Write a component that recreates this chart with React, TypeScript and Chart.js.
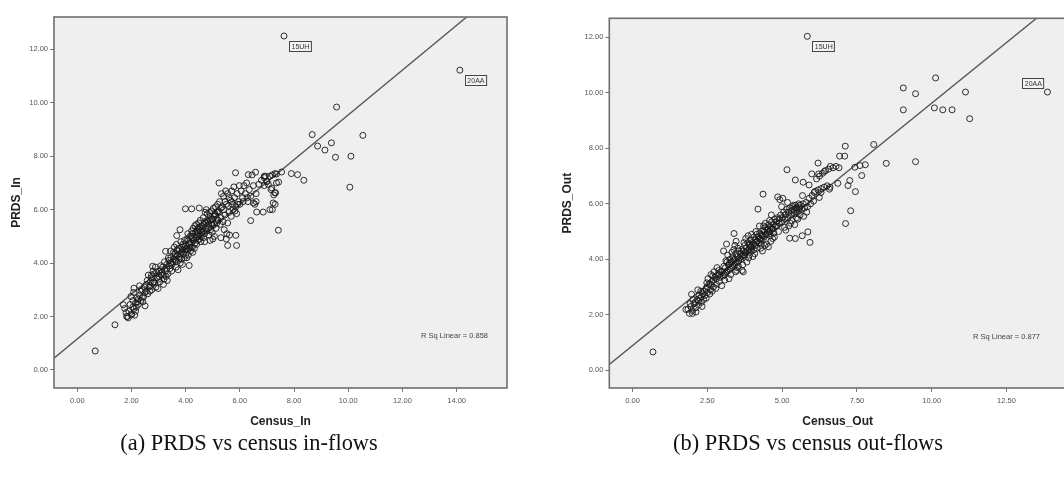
import React, { useEffect, useRef } from 'react';
import { Chart, registerables } from 'chart.js';

Chart.register(...registerables);

// ---------- Panel (a): PRDS vs census in-flows ----------
const inPoints: [number, number][] = [
  // outliers / sparse points
  [7.63, 12.5], [14.12, 11.22], [9.57, 9.84], [8.67, 8.81], [10.54, 8.78], [8.87, 8.38],
  [9.14, 8.23], [9.38, 8.5], [9.53, 7.96], [10.1, 8.0], [10.06, 6.84], [0.66, 0.71],
  [1.39, 1.69], [7.42, 5.23], [5.88, 4.66], [5.55, 4.66], [5.85, 5.04], [6.4, 5.59],
  [6.62, 5.91], [6.86, 5.91], [7.11, 6.0], [7.23, 6.25], [7.29, 6.63], [7.9, 7.35],
  [8.13, 7.31], [8.36, 7.1], [7.43, 7.03], [7.54, 7.41], [7.35, 7.33], [5.84, 7.38],
  [6.31, 7.31], [6.58, 7.4], [6.9, 7.25], [6.99, 7.06], [7.18, 6.81], [7.32, 6.63],
  [5.23, 7.0], [3.99, 6.03], [4.22, 6.03], [4.5, 6.06], [3.79, 5.25], [3.67, 5.03],
  [4.13, 3.91], [3.26, 4.44], [3.36, 4.19], [2.78, 3.88], [2.74, 3.56], [2.5, 2.4],
  [1.7, 2.44], [1.82, 2.0], [2.0, 2.06], [2.09, 3.06],
  // main cluster
  [1.75, 2.3], [1.8, 2.15], [1.85, 2.0], [1.9, 2.2], [1.95, 2.45], [2.0, 2.1], [2.05, 2.6],
  [2.1, 2.3], [2.15, 2.5], [2.2, 2.7], [1.88, 1.95], [2.12, 2.05], [2.18, 2.35], [1.98, 2.75],
  [2.08, 2.9], [2.22, 2.55],
  [2.25, 2.45], [2.3, 2.8], [2.35, 2.6], [2.4, 3.0], [2.45, 2.75], [2.5, 2.9], [2.55, 3.2],
  [2.6, 2.85], [2.65, 3.1], [2.7, 3.3], [2.75, 3.0], [2.3, 3.15], [2.42, 2.55], [2.58, 3.35],
  [2.68, 2.95], [2.78, 3.25], [2.35, 2.95], [2.48, 3.1], [2.62, 3.55], [2.72, 3.45],
  [2.82, 3.3], [2.85, 3.6], [2.9, 3.1], [2.95, 3.45], [3.0, 3.7], [3.05, 3.3], [3.1, 3.55],
  [3.15, 3.85], [3.2, 3.4], [3.25, 3.7], [3.3, 3.95], [3.35, 3.6], [2.88, 3.85], [2.98, 3.05],
  [3.08, 3.9], [3.18, 3.2], [3.28, 3.5], [3.38, 4.1], [2.92, 3.65], [3.12, 3.65], [3.22, 4.05],
  [3.32, 3.35], [3.02, 3.5], [2.8, 3.7],
  [3.42, 3.8], [3.45, 4.2], [3.5, 3.95], [3.55, 4.4], [3.6, 4.1], [3.65, 3.85], [3.7, 4.3],
  [3.75, 4.55], [3.8, 4.0], [3.85, 4.4], [3.9, 4.7], [3.95, 4.2], [3.48, 3.7], [3.58, 4.6],
  [3.68, 4.5], [3.78, 4.25], [3.88, 3.95], [3.98, 4.5], [3.62, 4.25], [3.72, 3.75], [3.82, 4.8],
  [3.92, 4.35], [3.52, 4.05], [3.44, 4.45], [3.66, 4.7], [3.86, 4.6], [3.96, 4.85], [3.76, 4.15],
  [4.02, 4.5], [4.05, 4.9], [4.1, 4.3], [4.15, 4.7], [4.2, 5.0], [4.25, 4.6], [4.3, 4.85],
  [4.35, 5.15], [4.4, 4.7], [4.45, 5.3], [4.5, 4.9], [4.55, 5.2], [4.08, 5.1], [4.18, 4.45],
  [4.28, 5.3], [4.38, 4.95], [4.48, 5.5], [4.58, 5.0], [4.12, 4.75], [4.22, 5.2], [4.32, 4.55],
  [4.42, 5.05], [4.52, 5.35], [4.04, 4.2], [4.24, 4.95], [4.34, 5.4], [4.44, 4.85], [4.54, 5.6],
  [4.16, 5.0], [4.46, 5.15], [4.56, 4.8], [4.26, 4.4],
  [4.62, 5.3], [4.65, 5.7], [4.7, 5.1], [4.75, 5.5], [4.8, 5.85], [4.85, 5.3], [4.9, 5.6],
  [4.95, 5.95], [5.0, 5.4], [5.05, 5.75], [5.1, 6.1], [5.15, 5.5], [4.68, 5.45], [4.78, 5.2],
  [4.88, 5.9], [4.98, 5.15], [5.08, 5.85], [5.18, 6.2], [4.72, 5.9], [4.82, 5.55], [4.92, 5.25],
  [5.02, 6.05], [5.12, 5.3], [4.66, 4.95], [4.76, 6.0], [4.86, 5.05], [4.96, 5.65], [5.06, 5.0],
  [5.16, 5.9], [4.7, 4.8], [4.9, 4.85], [5.0, 4.9], [5.2, 5.6],
  [5.22, 5.9], [5.25, 6.3], [5.3, 5.7], [5.35, 6.1], [5.4, 6.5], [5.45, 5.8], [5.5, 6.2],
  [5.55, 6.6], [5.6, 5.9], [5.65, 6.35], [5.7, 6.7], [5.75, 6.0], [5.8, 6.45], [5.85, 6.1],
  [5.9, 6.6], [5.95, 6.3], [5.28, 5.45], [5.38, 5.55], [5.48, 6.7], [5.58, 6.15], [5.68, 5.75],
  [5.78, 6.85], [5.88, 5.85], [5.98, 6.9], [5.32, 6.6], [5.42, 5.25], [5.52, 5.1], [5.62, 5.05],
  [5.72, 6.2], [5.82, 5.95], [5.92, 6.2], [5.3, 4.95], [5.5, 4.9],
  [6.05, 6.7], [6.1, 6.45], [6.15, 6.9], [6.2, 6.6], [6.25, 7.0], [6.3, 6.3], [6.35, 6.75],
  [6.4, 6.5], [6.5, 6.9], [6.6, 6.6], [6.7, 6.95], [6.8, 7.1], [6.9, 7.2], [7.0, 7.05],
  [7.1, 7.25], [7.2, 7.3], [7.3, 7.35], [6.45, 7.3], [6.55, 6.2], [6.9, 6.9], [7.05, 6.95],
  [7.15, 6.75], [7.25, 6.55], [7.35, 7.0], [6.0, 6.2], [6.12, 6.3], [6.28, 6.45], [6.5, 6.25],
  [6.6, 6.3], [6.95, 7.25], [7.3, 6.2], [7.2, 6.0],
  // dense core
  [2.05, 2.35], [2.15, 2.2], [2.25, 2.65], [2.4, 2.7], [2.55, 2.95], [2.7, 3.15], [2.85, 3.25],
  [3.0, 3.4], [3.1, 3.75], [3.2, 3.55], [3.3, 3.8], [3.4, 3.9], [3.45, 4.0], [3.55, 4.15],
  [3.6, 4.35], [3.65, 4.05], [3.7, 4.45], [3.8, 4.35], [3.85, 4.15], [3.9, 4.5], [3.95, 4.6],
  [4.0, 4.3], [4.0, 4.65], [4.05, 4.55], [4.1, 4.85], [4.15, 4.55], [4.2, 4.75], [4.25, 5.1],
  [4.3, 4.95], [4.35, 4.75], [4.4, 5.2], [4.45, 5.0], [4.5, 5.25], [4.55, 5.05], [4.6, 5.4],
  [4.65, 5.2], [4.7, 5.55], [4.75, 5.3], [4.8, 5.6], [4.85, 5.45], [4.9, 5.75], [4.95, 5.5],
  [5.0, 5.65], [5.05, 5.45], [5.1, 5.8], [5.15, 5.65], [5.2, 5.95], [5.3, 6.05], [5.4, 6.0],
  [5.45, 6.3], [5.6, 6.45], [5.7, 6.3], [5.55, 5.5], [4.6, 5.15], [4.4, 5.45], [4.2, 4.6],
];
const inLabels = ['15UH', '20AA'];
const inLabelX = [7.63, 14.12];
const inLabelY = [12.5, 11.22];
const inFitSlope = 0.8385;
const inFitIntercept = 1.16;
const inRsq = 'R Sq Linear = 0.858';
const inXTicks = [0, 2, 4, 6, 8, 10, 12, 14];
const inYTicks = [0, 2, 4, 6, 8, 10, 12];

// ---------- Panel (b): PRDS vs census out-flows ----------
const outPoints: [number, number][] = [
  // outliers / sparse points
  [5.84, 12.04], [13.87, 10.03], [10.13, 10.54], [9.05, 10.18], [9.46, 9.97], [11.13, 10.03],
  [9.05, 9.39], [10.09, 9.46], [10.37, 9.39], [10.68, 9.39], [11.27, 9.07], [9.46, 7.52],
  [8.48, 7.46], [8.06, 8.14], [7.11, 8.08], [6.92, 7.72], [7.09, 7.72], [7.78, 7.41],
  [7.6, 7.38], [7.43, 7.32], [7.66, 7.02], [7.45, 6.44], [7.26, 6.84], [7.2, 6.66],
  [7.29, 5.75], [7.12, 5.29], [6.86, 6.74], [6.2, 7.47], [6.61, 7.35], [6.41, 7.17],
  [6.22, 7.08], [5.99, 7.08], [5.16, 7.23], [5.44, 6.86], [5.7, 6.78], [5.9, 6.68],
  [6.07, 6.41], [4.36, 6.35], [4.19, 5.81], [3.39, 4.93], [5.93, 4.61], [5.67, 4.85],
  [5.86, 4.99], [5.44, 4.75], [5.25, 4.76], [0.68, 0.66], [1.78, 2.19], [2.0, 2.05],
  [1.97, 2.74], [6.24, 6.23], [6.3, 6.41], [6.58, 6.53],
  // main cluster
  [1.85, 2.2], [1.9, 2.05], [1.95, 2.3], [2.0, 2.15], [2.05, 2.4], [2.1, 2.25], [2.15, 2.55],
  [2.2, 2.35], [2.25, 2.6], [2.3, 2.45], [2.35, 2.75], [2.02, 2.55], [2.12, 2.1], [2.22, 2.7],
  [2.32, 2.3], [1.92, 2.4], [2.18, 2.9], [2.28, 2.85], [2.38, 2.55],
  [2.42, 2.7], [2.45, 2.95], [2.5, 2.8], [2.55, 3.1], [2.6, 2.9], [2.65, 3.2], [2.7, 3.0],
  [2.75, 3.35], [2.8, 3.1], [2.85, 3.45], [2.9, 3.2], [2.95, 3.55], [2.48, 3.15], [2.58, 2.75],
  [2.68, 3.4], [2.78, 2.95], [2.88, 3.6], [2.98, 3.05], [2.52, 3.3], [2.62, 3.45], [2.72, 3.55],
  [2.82, 3.7], [2.92, 3.35], [2.46, 2.6], [2.66, 2.85],
  [3.02, 3.4], [3.05, 3.75], [3.1, 3.5], [3.15, 3.9], [3.2, 3.6], [3.25, 4.0], [3.3, 3.7],
  [3.35, 4.1], [3.4, 3.8], [3.45, 4.2], [3.5, 3.9], [3.55, 4.3], [3.08, 3.25], [3.18, 4.15],
  [3.28, 3.45], [3.38, 4.35], [3.48, 3.6], [3.58, 4.05], [3.12, 3.95], [3.22, 3.3], [3.32, 4.25],
  [3.42, 4.5], [3.52, 4.4], [3.04, 4.3], [3.14, 4.55], [3.24, 3.85], [3.44, 3.55], [3.54, 3.75],
  [3.36, 3.95], [3.46, 4.65],
  [3.62, 4.0], [3.65, 4.35], [3.7, 4.15], [3.75, 4.5], [3.8, 4.25], [3.85, 4.6], [3.9, 4.35],
  [3.95, 4.7], [4.0, 4.45], [4.05, 4.8], [4.1, 4.5], [4.15, 4.9], [3.68, 3.8], [3.78, 4.75],
  [3.88, 4.05], [3.98, 4.9], [4.08, 4.2], [4.18, 4.65], [3.72, 4.6], [3.82, 3.9], [3.92, 4.55],
  [4.02, 4.1], [4.12, 5.0], [3.66, 3.6], [3.86, 4.85], [4.06, 4.35], [4.16, 4.4], [3.76, 4.25],
  [3.96, 4.3], [3.7, 3.55],
  [4.22, 4.6], [4.25, 4.95], [4.3, 4.7], [4.35, 5.05], [4.4, 4.8], [4.45, 5.15], [4.5, 4.9],
  [4.55, 5.25], [4.6, 5.0], [4.65, 5.35], [4.7, 5.1], [4.75, 5.45], [4.28, 4.4], [4.38, 5.2],
  [4.48, 4.55], [4.58, 5.4], [4.68, 4.75], [4.78, 5.2], [4.32, 4.85], [4.42, 4.5], [4.52, 5.1],
  [4.62, 4.65], [4.72, 4.95], [4.24, 5.2], [4.44, 5.3], [4.64, 5.6], [4.34, 4.3], [4.54, 4.45],
  [4.74, 4.8],
  [4.82, 5.2], [4.85, 5.5], [4.9, 5.3], [4.95, 5.6], [5.0, 5.35], [5.05, 5.7], [5.1, 5.45],
  [5.15, 5.8], [5.2, 5.5], [5.25, 5.85], [5.3, 5.6], [5.35, 5.9], [5.4, 5.65], [5.45, 5.95],
  [5.5, 5.7], [5.55, 6.0], [4.88, 5.0], [4.98, 5.9], [5.08, 5.15], [5.18, 6.05], [5.28, 5.3],
  [5.38, 5.95], [5.48, 5.5], [5.58, 5.85], [4.92, 6.15], [5.02, 6.2], [5.12, 5.05], [5.22, 5.2],
  [5.32, 5.4], [5.42, 5.25], [5.52, 5.45], [4.85, 6.25], [5.6, 5.6], [5.6, 5.95], [5.56, 5.75],
  [5.46, 5.85],
  [5.65, 5.8], [5.7, 6.0], [5.75, 5.85], [5.8, 6.05], [5.85, 5.9], [5.9, 6.2], [6.0, 6.3],
  [6.1, 6.45], [6.2, 6.5], [6.3, 6.55], [6.4, 6.6], [6.5, 6.65], [5.72, 5.55], [5.82, 5.7],
  [5.95, 6.0], [6.05, 6.1], [5.68, 6.3], [6.15, 6.9], [6.25, 7.0], [6.35, 7.1], [6.45, 7.2],
  [6.55, 7.25], [6.6, 6.6], [6.7, 7.3], [6.8, 7.35], [6.9, 7.3],
  // dense core
  [2.1, 2.45], [2.2, 2.5], [2.3, 2.65], [2.4, 2.85], [2.5, 3.0], [2.6, 3.1], [2.7, 3.25],
  [2.8, 3.3], [2.9, 3.45], [3.0, 3.55], [3.05, 3.45], [3.1, 3.7], [3.2, 3.8], [3.25, 3.65],
  [3.3, 3.9], [3.35, 3.75], [3.4, 4.0], [3.45, 3.85], [3.5, 4.1], [3.55, 3.95], [3.6, 4.2],
  [3.65, 4.1], [3.7, 4.3], [3.75, 4.15], [3.8, 4.4], [3.85, 4.3], [3.9, 4.5], [3.95, 4.45],
  [4.0, 4.6], [4.05, 4.55], [4.1, 4.7], [4.15, 4.65], [4.2, 4.8], [4.25, 4.75], [4.3, 4.9],
  [4.35, 4.85], [4.4, 5.0], [4.45, 4.9], [4.5, 5.05], [4.55, 5.0], [4.6, 5.15], [4.65, 5.1],
  [4.7, 5.25], [4.8, 5.35], [4.9, 5.45], [5.0, 5.5], [5.1, 5.6], [5.2, 5.7], [5.3, 5.75],
  [5.4, 5.8], [5.5, 5.85], [3.5, 3.7], [3.9, 4.15], [4.3, 4.55], [4.6, 4.85], [3.15, 3.55],
];
const outLabels = ['15UH', '20AA'];
const outLabelX = [5.84, 13.87];
const outLabelY = [12.04, 10.03];
const outFitSlope = 0.874;
const outFitIntercept = 0.89;
const outRsq = 'R Sq Linear = 0.877';
const outXTicks = [0, 2.5, 5, 7.5, 10, 12.5];
const outYTicks = [0, 2, 4, 6, 8, 10, 12];

const SANS = '"Liberation Sans", Arial, sans-serif';

type PanelSpec = {
  points: [number, number][];
  labels: string[];
  labelX: number[];
  labelY: number[];
  labelSide: number[];
  slope: number;
  intercept: number;
  rsq: string;
  rsqRightInset: number;
  rsqBottomInset: number;
  xTicks: number[];
  yTicks: number[];
  xMin: number;
  xMax: number;
  yMin: number;
  yMax: number;
  xTitle: string;
  yTitle: string;
  yAxisWidth: number;
  yTitlePad: number;
  padding: { left: number; top: number; right: number; bottom: number };
};

function panelPlugin(spec: PanelSpec) {
  return {
    id: 'spssPanel',
    beforeDraw(chart: any) {
      const { ctx, chartArea: a } = chart;
      ctx.save();
      ctx.fillStyle = '#efefef';
      ctx.fillRect(a.left, a.top, a.right - a.left, a.bottom - a.top);
      ctx.restore();
    },
    afterDraw(chart: any) {
      const { ctx, chartArea: a, scales } = chart;
      const xs = scales.x;
      const ys = scales.y;
      ctx.save();
      // frame
      ctx.strokeStyle = '#6e6e6e';
      ctx.lineWidth = 1.6;
      ctx.strokeRect(a.left, a.top, a.right - a.left, a.bottom - a.top);
      // case labels
      ctx.font = `7px ${SANS}`;
      ctx.textAlign = 'center';
      ctx.textBaseline = 'middle';
      spec.labels.forEach((t, i) => {
        const px = xs.getPixelForValue(spec.labelX[i]);
        const py = ys.getPixelForValue(spec.labelY[i]);
        const w = ctx.measureText(t).width + 4;
        const h = 10;
        let bx: number;
        let by: number;
        if (spec.labelSide[i] > 0) {
          bx = px + 5;
          by = py + 5;
        } else {
          bx = px - 4 - w;
          by = py - 4 - h;
        }
        ctx.fillStyle = '#f4f4f4';
        ctx.fillRect(bx, by, w, h);
        ctx.strokeStyle = '#444';
        ctx.lineWidth = 1;
        ctx.strokeRect(Math.round(bx) + 0.5, Math.round(by) + 0.5, w, h);
        ctx.fillStyle = '#333';
        ctx.fillText(t, bx + w / 2 + 0.5, by + h / 2 + 1);
      });
      // R square text
      ctx.font = `7.5px ${SANS}`;
      ctx.textAlign = 'right';
      ctx.fillStyle = '#444';
      ctx.fillText(spec.rsq, a.right - spec.rsqRightInset, a.bottom - spec.rsqBottomInset);
      ctx.restore();
    },
  };
}

function makeChart(canvas: HTMLCanvasElement, spec: PanelSpec) {
  const fit = [spec.xMin, spec.xMax].map((x) => ({ x, y: spec.intercept + spec.slope * x }));
  return new Chart(canvas, {
    type: 'scatter',
    data: {
      datasets: [
        {
          data: spec.points.map(([x, y]) => ({ x, y })),
          pointStyle: 'circle',
          pointRadius: 3,
          pointBorderWidth: 1,
          pointBorderColor: 'rgba(25,25,25,0.9)',
          pointBackgroundColor: 'rgba(0,0,0,0)',
          showLine: false,
        },
        {
          data: fit,
          showLine: true,
          borderColor: '#5a5a5a',
          borderWidth: 1.4,
          pointRadius: 0,
          fill: false,
        },
      ],
    } as any,
    options: {
      responsive: false,
      animation: false,
      events: [],
      devicePixelRatio: 1,
      layout: { padding: spec.padding },
      plugins: { legend: { display: false }, tooltip: { enabled: false } },
      scales: {
        x: {
          type: 'linear',
          position: 'bottom',
          min: spec.xMin,
          max: spec.xMax,
          afterBuildTicks: (s: any) => {
            s.ticks = spec.xTicks.map((v) => ({ value: v }));
          },
          afterFit: (s: any) => {
            s.height = 52;
          },
          ticks: {
            autoSkip: false,
            maxRotation: 0,
            padding: 4,
            color: '#555',
            font: { family: SANS, size: 7.5 },
            callback: (v: any) => Number(v).toFixed(2),
          },
          grid: { drawOnChartArea: false, drawTicks: true, tickLength: 4, tickColor: '#777' },
          border: { display: false },
          title: {
            display: true,
            text: spec.xTitle,
            color: '#222',
            font: { family: SANS, size: 12, weight: 'bold' },
            padding: { top: 0, bottom: 10.8 },
          },
        },
        y: {
          type: 'linear',
          position: 'left',
          min: spec.yMin,
          max: spec.yMax,
          afterBuildTicks: (s: any) => {
            s.ticks = spec.yTicks.map((v) => ({ value: v }));
          },
          afterFit: (s: any) => {
            s.width = spec.yAxisWidth;
          },
          ticks: {
            autoSkip: false,
            padding: 2,
            color: '#555',
            font: { family: SANS, size: 7.5 },
            callback: (v: any) => Number(v).toFixed(2),
          },
          grid: { drawOnChartArea: false, drawTicks: true, tickLength: 4, tickColor: '#777' },
          border: { display: false },
          title: {
            display: true,
            text: spec.yTitle,
            color: '#222',
            font: { family: SANS, size: 12, weight: 'bold' },
            padding: { top: spec.yTitlePad, bottom: 0 },
          },
        },
      },
    } as any,
    plugins: [panelPlugin(spec)],
  });
}

const inSpec: PanelSpec = {
  points: inPoints,
  labels: inLabels,
  labelX: inLabelX,
  labelY: inLabelY,
  labelSide: [1, 1],
  slope: inFitSlope,
  intercept: inFitIntercept,
  rsq: inRsq,
  rsqRightInset: 19,
  rsqBottomInset: 52,
  xTicks: inXTicks,
  yTicks: inYTicks,
  xMin: -0.86,
  xMax: 15.86,
  yMin: -0.675,
  yMax: 13.21,
  xTitle: 'Census_In',
  yTitle: 'PRDS_In',
  yAxisWidth: 54,
  yTitlePad: 9.8,
  padding: { left: 0, top: 17, right: 25, bottom: 0 },
};

const outSpec: PanelSpec = {
  points: outPoints,
  labels: outLabels,
  labelX: outLabelX,
  labelY: outLabelY,
  labelSide: [1, -1],
  slope: outFitSlope,
  intercept: outFitIntercept,
  rsq: outRsq,
  rsqRightInset: 26,
  rsqBottomInset: 51,
  xTicks: outXTicks,
  yTicks: outYTicks,
  xMin: -0.78,
  xMax: 14.49,
  yMin: -0.64,
  yMax: 12.69,
  xTitle: 'Census_Out',
  yTitle: 'PRDS_Out',
  yAxisWidth: 77.3,
  yTitlePad: 28.8,
  padding: { left: 0, top: 18.3, right: 6, bottom: 0 },
};

export default function App() {
  const aRef = useRef<HTMLCanvasElement>(null);
  const bRef = useRef<HTMLCanvasElement>(null);

  useEffect(() => {
    const c1 = makeChart(aRef.current as HTMLCanvasElement, inSpec);
    const c2 = makeChart(bRef.current as HTMLCanvasElement, outSpec);
    return () => {
      c1.destroy();
      c2.destroy();
    };
  }, []);

  const captionStyle: React.CSSProperties = {
    position: 'absolute',
    top: 430,
    height: 26,
    lineHeight: '26px',
    fontFamily: '"Liberation Serif", "Times New Roman", serif',
    fontSize: '22.4px',
    color: '#111',
    textAlign: 'center',
    whiteSpace: 'nowrap',
  };

  return (
    <div
      style={{
        position: 'fixed',
        left: 0,
        top: 0,
        width: 1064,
        height: 480,
        overflow: 'hidden',
        background: '#fff',
      }}
    >
      <canvas
        ref={aRef}
        width={532}
        height={440}
        style={{ position: 'absolute', left: 0, top: 0, width: 532, height: 440, display: 'block' }}
      />
      <canvas
        ref={bRef}
        width={540}
        height={440}
        style={{ position: 'absolute', left: 532, top: 0, width: 540, height: 440, display: 'block' }}
      />
      <div style={{ ...captionStyle, left: 49, width: 400 }}>(a) PRDS vs census in-flows</div>
      <div style={{ ...captionStyle, left: 608, width: 400 }}>(b) PRDS vs census out-flows</div>
    </div>
  );
}
